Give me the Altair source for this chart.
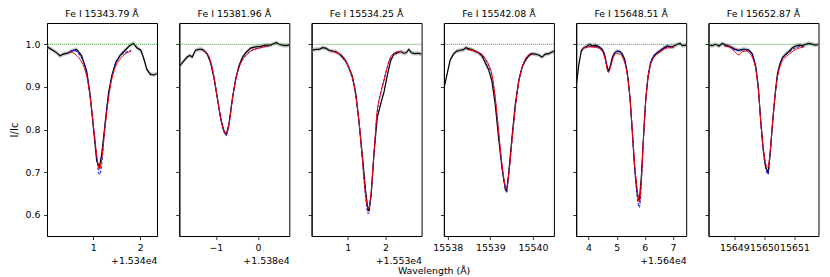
import altair as alt
import pandas as pd

FONT = "DejaVu Sans"
FS = 9.4
ERR = 0.005

titles = ["Fe I 15343.79 Å", "Fe I 15381.96 Å", "Fe I 15534.25 Å",
          "Fe I 15542.08 Å", "Fe I 15648.51 Å", "Fe I 15652.87 Å"]
domains = [[15340.01, 15342.36], [15378.13, 15380.745], [15530.05, 15532.95],
           [15537.91, 15540.49], [15643.56, 15647.47], [15648.14, 15651.8]]
tick_values = [[15341, 15342], [15379, 15380], [15531, 15532],
               [15538, 15539, 15540], [15644, 15645, 15646, 15647], [15649, 15650, 15651]]
offsets = [15340, 15380, 15530, 0, 15640, 0]
offset_text = ["+1.534e4", "+1.538e4", "+1.553e4", "", "+1.564e4", ""]
y_ticks = [0.6, 0.7, 0.8, 0.9, 1.0]

# ---- Panel 1 ----
p1_obs_x = [15340.014, 15340.107, 15340.214, 15340.286, 15340.357, 15340.464, 15340.571, 15340.643,
            15340.75, 15340.857, 15340.929, 15341.0, 15341.071, 15341.129, 15341.179, 15341.25,
            15341.321, 15341.393, 15341.479, 15341.571, 15341.679, 15341.786, 15341.857, 15341.929,
            15342.014, 15342.071, 15342.143, 15342.214, 15342.286, 15342.357]
p1_obs_y = [0.994, 0.988, 0.9805, 0.973, 0.977, 0.980, 0.986, 0.988, 0.973, 0.9375, 0.883, 0.805,
            0.727, 0.711, 0.742, 0.8125, 0.883, 0.926, 0.957, 0.974, 0.986, 0.998, 1.002, 0.992,
            0.986, 0.969, 0.941, 0.930, 0.928, 0.931]
p1_mod_x = [15340.5, 15340.607, 15340.714, 15340.807, 15340.879, 15340.95, 15341.021, 15341.079,
            15341.129, 15341.179, 15341.236, 15341.307, 15341.379, 15341.464, 15341.571, 15341.679,
            15341.807]
p1_red = [0.983, 0.977, 0.965, 0.945, 0.914, 0.859, 0.789, 0.734, 0.707, 0.730, 0.789, 0.859,
          0.910, 0.945, 0.965, 0.977, 0.984]
p1_blue = [0.984, 0.985, 0.973, 0.953, 0.918, 0.862, 0.789, 0.728, 0.694, 0.720, 0.795, 0.868,
           0.915, 0.952, 0.972, 0.980, 0.986]

# ---- Panel 2 ----
p2_obs_x = [15378.135, 15378.238, 15378.317, 15378.381, 15378.437, 15378.516, 15378.595, 15378.675,
            15378.730, 15378.794, 15378.873, 15378.952, 15379.032, 15379.111, 15379.190, 15379.246,
            15379.310, 15379.389, 15379.468, 15379.548, 15379.627, 15379.706, 15379.825, 15379.944,
            15380.063, 15380.183, 15380.302, 15380.381, 15380.444, 15380.5, 15380.579, 15380.659,
            15380.746]
p2_obs_y = [0.949, 0.961, 0.970, 0.974, 0.970, 0.986, 0.988, 0.988, 0.984, 0.977, 0.957, 0.922,
            0.875, 0.828, 0.797, 0.788, 0.8125, 0.871, 0.918, 0.949, 0.969, 0.980, 0.991, 0.994,
            0.995, 0.998, 0.998, 1.002, 1.004, 1.0, 0.998, 0.997, 0.998]
p2_mod_x = [15378.675, 15378.794, 15378.873, 15378.952, 15379.032, 15379.111, 15379.190, 15379.246,
            15379.310, 15379.389, 15379.468, 15379.548, 15379.627, 15379.706, 15379.825, 15379.944,
            15380.063, 15380.183, 15380.262]
p2_red = [0.986, 0.978, 0.960, 0.925, 0.876, 0.828, 0.797, 0.789, 0.812, 0.868, 0.915, 0.945,
          0.963, 0.973, 0.984, 0.989, 0.992, 0.995, 0.996]
p2_blue = [0.986, 0.978, 0.960, 0.925, 0.876, 0.827, 0.795, 0.787, 0.811, 0.868, 0.915, 0.945,
           0.963, 0.973, 0.984, 0.989, 0.992, 0.995, 0.996]

# ---- Panel 3 ----
p3_obs_x = [15530.053, 15530.158, 15530.246, 15530.333, 15530.421, 15530.509, 15530.596, 15530.684,
            15530.772, 15530.860, 15530.947, 15531.035, 15531.123, 15531.211, 15531.298, 15531.386,
            15531.474, 15531.535, 15531.561, 15531.623, 15531.693, 15531.781, 15531.868, 15531.956,
            15532.044, 15532.132, 15532.219, 15532.307, 15532.395, 15532.482, 15532.544, 15532.614,
            15532.684, 15532.772, 15532.860, 15532.947]
p3_obs_y = [0.986, 0.988, 0.988, 0.992, 0.991, 0.986, 0.984, 0.983, 0.978, 0.970, 0.961, 0.945,
            0.926, 0.887, 0.820, 0.742, 0.656, 0.612, 0.610, 0.648, 0.742, 0.828, 0.859, 0.887,
            0.926, 0.961, 0.977, 0.980, 0.983, 0.979, 0.980, 0.988, 0.980, 0.978, 0.979, 0.977]
p3_mod_x = [15530.596, 15530.684, 15530.772, 15530.860, 15530.947, 15531.035, 15531.123, 15531.211,
            15531.298, 15531.386, 15531.474, 15531.544, 15531.605, 15531.693, 15531.781, 15531.868,
            15531.956, 15532.044, 15532.132, 15532.219, 15532.307, 15532.395]
p3_red = [0.984, 0.981, 0.978, 0.973, 0.962, 0.945, 0.922, 0.883, 0.820, 0.734, 0.648, 0.613,
          0.641, 0.742, 0.844, 0.883, 0.914, 0.945, 0.969, 0.978, 0.982, 0.983]
p3_blue = [0.984, 0.981, 0.978, 0.973, 0.961, 0.943, 0.918, 0.880, 0.818, 0.730, 0.640, 0.602,
           0.635, 0.740, 0.842, 0.885, 0.916, 0.947, 0.970, 0.978, 0.982, 0.983]

# ---- Panel 4 ----
p4_obs_x = [15537.914, 15537.976, 15538.055, 15538.133, 15538.212, 15538.290, 15538.369, 15538.424,
            15538.486, 15538.565, 15538.643, 15538.722, 15538.800, 15538.878, 15538.957, 15539.035,
            15539.114, 15539.192, 15539.271, 15539.349, 15539.380, 15539.427, 15539.506, 15539.584,
            15539.663, 15539.741, 15539.820, 15539.898, 15539.976, 15540.055, 15540.133, 15540.212,
            15540.290, 15540.369, 15540.494]
p4_obs_y = [0.898, 0.926, 0.9625, 0.977, 0.984, 0.986, 0.9875, 0.992, 0.990, 0.9875, 0.984, 0.980,
            0.973, 0.957, 0.941, 0.914, 0.859, 0.781, 0.711, 0.660, 0.656, 0.695, 0.781, 0.859,
            0.914, 0.945, 0.9625, 0.973, 0.978, 0.977, 0.975, 0.970, 0.977, 0.978, 0.984]
p4_mod_x = [15538.447, 15538.565, 15538.643, 15538.722, 15538.800, 15538.878, 15538.957, 15539.035,
            15539.114, 15539.192, 15539.271, 15539.349, 15539.380, 15539.427, 15539.506, 15539.584,
            15539.663, 15539.741, 15539.820, 15539.898, 15539.976]
p4_red = [0.988, 0.986, 0.983, 0.980, 0.977, 0.967, 0.953, 0.930, 0.875, 0.797, 0.719, 0.668,
          0.660, 0.691, 0.773, 0.852, 0.910, 0.945, 0.965, 0.975, 0.979]
p4_blue = [0.988, 0.986, 0.983, 0.980, 0.976, 0.965, 0.950, 0.926, 0.872, 0.795, 0.715, 0.662,
           0.652, 0.690, 0.772, 0.850, 0.908, 0.944, 0.964, 0.975, 0.979]

# ---- Panel 5 ----
p5_obs_x = [15643.561, 15643.656, 15643.739, 15643.834, 15643.953, 15644.047, 15644.130, 15644.249,
            15644.368, 15644.486, 15644.569, 15644.641, 15644.700, 15644.759, 15644.842, 15644.925,
            15645.020, 15645.115, 15645.198, 15645.281, 15645.376, 15645.471, 15645.554, 15645.637,
            15645.732, 15645.803, 15645.874, 15645.945, 15646.028, 15646.112, 15646.206, 15646.325,
            15646.444, 15646.562, 15646.681, 15646.800, 15646.918, 15647.037, 15647.155, 15647.250,
            15647.333, 15647.476]
p5_obs_y = [0.902, 0.953, 0.984, 0.992, 0.996, 1.0, 0.996, 0.998, 0.994, 0.988, 0.977, 0.953,
            0.9375, 0.945, 0.969, 0.980, 0.984, 0.983, 0.977, 0.965, 0.934, 0.875, 0.797, 0.711,
            0.648, 0.633, 0.6875, 0.773, 0.867, 0.922, 0.957, 0.973, 0.980, 0.986, 0.992, 0.996,
            0.994, 0.996, 1.0, 1.002, 0.997, 0.998]
p5_mod_x = [15643.739, 15643.834, 15644.071, 15644.308, 15644.486, 15644.605, 15644.700, 15644.783,
            15644.878, 15644.996, 15645.115, 15645.234, 15645.352, 15645.471, 15645.554, 15645.637,
            15645.732, 15645.803, 15645.874, 15645.945, 15646.028, 15646.112, 15646.206, 15646.325,
            15646.503, 15646.681, 15646.859, 15647.037]
p5_red = [0.985, 0.991, 0.994, 0.992, 0.984, 0.961, 0.934, 0.947, 0.969, 0.978, 0.977, 0.965,
          0.938, 0.875, 0.797, 0.719, 0.656, 0.629, 0.680, 0.773, 0.863, 0.922, 0.953, 0.970,
          0.980, 0.988, 0.992, 0.992]
p5_blue = [0.986, 0.992, 0.995, 0.994, 0.986, 0.963, 0.935, 0.950, 0.973, 0.983, 0.982, 0.970,
           0.940, 0.874, 0.793, 0.710, 0.640, 0.617, 0.672, 0.770, 0.866, 0.926, 0.958, 0.974,
           0.983, 0.990, 0.994, 0.994]

# ---- Panel 6 ----
p6_obs_x = [15648.144, 15648.267, 15648.378, 15648.489, 15648.6, 15648.711, 15648.822, 15648.933,
            15649.044, 15649.156, 15649.267, 15649.378, 15649.489, 15649.6, 15649.711, 15649.8,
            15649.878, 15649.956, 15650.044, 15650.122, 15650.189, 15650.267, 15650.356, 15650.433,
            15650.511, 15650.6, 15650.711, 15650.822, 15650.933, 15651.044, 15651.156, 15651.267,
            15651.378, 15651.489, 15651.6, 15651.711, 15651.8]
p6_obs_y = [0.998, 0.997, 1.0, 0.996, 1.002, 0.998, 0.996, 0.992, 0.988, 0.986, 0.988, 0.988,
            0.986, 0.977, 0.949, 0.898, 0.820, 0.758, 0.711, 0.699, 0.742, 0.8125, 0.883, 0.930,
            0.953, 0.969, 0.977, 0.984, 0.992, 0.996, 0.998, 0.997, 1.0, 1.002, 1.0, 0.998, 1.0]
p6_mod_x = [15648.656, 15648.822, 15648.989, 15649.156, 15649.267, 15649.378, 15649.489, 15649.6,
            15649.711, 15649.8, 15649.878, 15649.956, 15650.044, 15650.122, 15650.189, 15650.267,
            15650.356, 15650.433, 15650.511, 15650.6, 15650.711, 15650.878, 15651.044, 15651.211,
            15651.322]
p6_red = [0.996, 0.994, 0.984, 0.975, 0.983, 0.984, 0.980, 0.969, 0.941, 0.891, 0.820, 0.758,
          0.719, 0.711, 0.746, 0.8125, 0.879, 0.922, 0.945, 0.961, 0.970, 0.980, 0.988, 0.992,
          0.994]
p6_blue = [0.997, 0.995, 0.988, 0.985, 0.987, 0.987, 0.985, 0.975, 0.947, 0.895, 0.818, 0.752,
           0.708, 0.695, 0.740, 0.810, 0.880, 0.926, 0.950, 0.966, 0.975, 0.984, 0.992, 0.995,
           0.996]

obs_x = [p1_obs_x, p2_obs_x, p3_obs_x, p4_obs_x, p5_obs_x, p6_obs_x]
obs_y = [p1_obs_y, p2_obs_y, p3_obs_y, p4_obs_y, p5_obs_y, p6_obs_y]
mod_x = [p1_mod_x, p2_mod_x, p3_mod_x, p4_mod_x, p5_mod_x, p6_mod_x]
red_y = [p1_red, p2_red, p3_red, p4_red, p5_red, p6_red]
blue_y = [p1_blue, p2_blue, p3_blue, p4_blue, p5_blue, p6_blue]

W, H = 110, 213
ydom = [0.55, 1.05]


def panel(i):
    obs = pd.DataFrame({"w": obs_x[i], "f": obs_y[i]})
    obs["lo"] = obs["f"] - ERR
    obs["hi"] = obs["f"] + ERR
    mod = pd.DataFrame({"w": mod_x[i], "red": red_y[i], "blue": blue_y[i]})

    xscale = alt.Scale(domain=domains[i], nice=False, zero=False)
    yscale = alt.Scale(domain=ydom, nice=False, zero=False)

    if offsets[i]:
        lexpr = f"replace('' + round(datum.value - {offsets[i]}), '-', '\u2212')"
    else:
        lexpr = "'' + round(datum.value)"
    xaxis = alt.Axis(values=tick_values[i], tickCount=20, labelExpr=lexpr, grid=False,
                     tickSize=3.5, labelPadding=3.5, labelOverlap=False, labelBound=False,
                     labelFlush=False,
                     title=offset_text[i] if offset_text[i] else "",
                     titleAnchor="end", titleAlign="right", titlePadding=5,
                     titleFont=FONT, titleFontSize=FS, titleFontWeight="normal")
    if i == 0:
        yaxis = alt.Axis(values=y_ticks, tickCount=20, format=".1f", grid=False, tickSize=3.5,
                         labelPadding=3.5, title="I/Ic", titlePadding=6,
                         titleFont=FONT, titleFontSize=FS + 0.6, titleFontWeight="normal")
    else:
        yaxis = alt.Axis(values=y_ticks, tickCount=20, labels=False, grid=False,
                         tickSize=3.5, title="")

    base_obs = alt.Chart(obs)
    band = base_obs.mark_area(color="#9a9a9a", opacity=0.55, clip=True).encode(
        x=alt.X("w:Q", scale=xscale, axis=xaxis),
        y=alt.Y("lo:Q", scale=yscale, axis=yaxis),
        y2="hi:Q",
    )
    black = base_obs.mark_line(color="black", strokeWidth=1.2, clip=True).encode(
        x=alt.X("w:Q", scale=xscale),
        y=alt.Y("f:Q", scale=yscale),
    )
    base_mod = alt.Chart(mod)
    blue = base_mod.mark_line(color="blue", strokeWidth=1.0, strokeDash=[3, 1.5],
                              interpolate="monotone", clip=True).encode(
        x=alt.X("w:Q", scale=xscale),
        y=alt.Y("blue:Q", scale=yscale),
    )
    red = base_mod.mark_line(color="red", strokeWidth=1.0, interpolate="monotone",
                             clip=True).encode(
        x=alt.X("w:Q", scale=xscale),
        y=alt.Y("red:Q", scale=yscale),
    )
    cont = alt.Chart(pd.DataFrame({"c": [1.0]})).mark_rule(
        color="green", strokeWidth=1.0, strokeDash=[1, 1], opacity=0.75
    ).encode(y=alt.Y("c:Q", scale=yscale))

    return alt.layer(band, black, blue, red, cont).properties(
        width=W, height=H,
        title=alt.TitleParams(titles[i], font=FONT, fontSize=FS, fontWeight="normal",
                              color="black", offset=4),
    )


chart = alt.hconcat(*[panel(i) for i in range(6)], spacing=22.3, bounds="flush").properties(
    padding=0,
    title=alt.TitleParams("Wavelength (Å)", orient="bottom", anchor="middle", dx=20,
                          offset=2, font=FONT, fontSize=FS, fontWeight="normal",
                          color="black"),
).configure_view(stroke="black", strokeWidth=1).configure_axis(
    domainColor="black", tickColor="black", labelColor="black", titleColor="black",
    labelFont=FONT, labelFontSize=FS, tickWidth=0.8, domainWidth=1, labelOverlap=False,
)

chart.save("out.html", embed_options={"renderer": "svg", "actions": False})
